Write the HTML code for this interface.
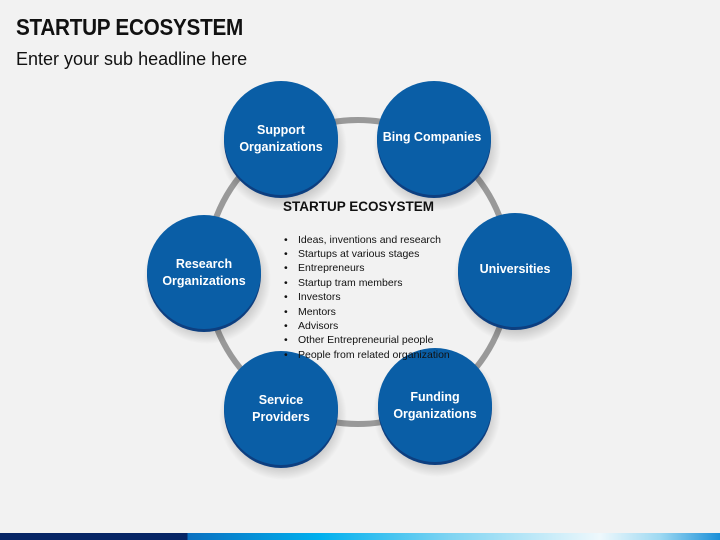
<!DOCTYPE html>
<html><head><meta charset="utf-8"><style>
html,body{margin:0;padding:0;}
body{width:720px;height:540px;background:#f2f2f2;position:relative;overflow:hidden;font-family:"Liberation Sans",sans-serif;}
.t{position:absolute;left:16px;top:14px;font-size:23px;font-weight:bold;color:#111;letter-spacing:-0.3px;transform:scaleX(0.9);transform-origin:0 0}
.s{position:absolute;left:16px;top:49px;font-size:18px;color:#111}
.bar{position:absolute;left:0;top:533px;width:720px;height:7px;background:linear-gradient(90deg,#062565 0,#062565 187px,#0a70c0 188px,#00b0ee 320px,#7fd4f2 450px,#eef8fc 600px,#9ed9f2 660px,#1a8fd8 720px)}
</style></head><body>
<div class="t">STARTUP ECOSYSTEM</div>
<div class="s">Enter your sub headline here</div>
<svg width="720" height="540" style="position:absolute;left:0;top:0">
<defs>
<radialGradient id="sh" cx="50%" cy="50%" r="50%"><stop offset="70%" stop-color="#000" stop-opacity="0.25"/><stop offset="100%" stop-color="#000" stop-opacity="0"/></radialGradient>
</defs>
<circle cx="358" cy="272" r="152" fill="none" stroke="#999" stroke-width="6"/>
<g font-family="Liberation Sans,sans-serif" font-weight="bold" font-size="12.5" fill="#fff" text-anchor="middle">
<circle cx="283" cy="147" r="64" fill="url(#sh)"/><circle cx="281" cy="141" r="57" fill="#0d3f80"/><circle cx="281" cy="138" r="57" fill="#0a5ea6"/>
<text x="281" y="134">Support</text><text x="281" y="151">Organizations</text>
<circle cx="437" cy="147" r="64" fill="url(#sh)"/><circle cx="434" cy="141" r="57" fill="#0d3f80"/><circle cx="434" cy="138" r="57" fill="#0a5ea6"/>
<text x="432" y="141">Bing Companies</text>
<circle cx="207" cy="280" r="64" fill="url(#sh)"/><circle cx="204" cy="275" r="57" fill="#0d3f80"/><circle cx="204" cy="272" r="57" fill="#0a5ea6"/>
<text x="204" y="268">Research</text><text x="204" y="285">Organizations</text>
<circle cx="517" cy="279" r="64" fill="url(#sh)"/><circle cx="515" cy="273" r="57" fill="#0d3f80"/><circle cx="515" cy="270" r="57" fill="#0a5ea6"/>
<text x="515" y="273">Universities</text>
<circle cx="283" cy="416" r="64" fill="url(#sh)"/><circle cx="281" cy="411" r="57" fill="#0d3f80"/><circle cx="281" cy="408" r="57" fill="#0a5ea6"/>
<text x="281" y="404">Service</text><text x="281" y="421">Providers</text>
<circle cx="437" cy="413" r="64" fill="url(#sh)"/><circle cx="435" cy="408" r="57" fill="#0d3f80"/><circle cx="435" cy="405" r="57" fill="#0a5ea6"/>
<text x="435" y="401">Funding</text><text x="435" y="418">Organizations</text>
</g>
<g font-family="Liberation Sans,sans-serif" fill="#111">
<text x="283" y="211" font-size="13.5" font-weight="bold">STARTUP ECOSYSTEM</text>
<g font-size="10.5">
<text x="284" y="243">•</text><text x="298" y="243">Ideas, inventions and research</text>
<text x="284" y="257">•</text><text x="298" y="257">Startups at various stages</text>
<text x="284" y="271">•</text><text x="298" y="271">Entrepreneurs</text>
<text x="284" y="286">•</text><text x="298" y="286">Startup tram members</text>
<text x="284" y="300">•</text><text x="298" y="300">Investors</text>
<text x="284" y="315">•</text><text x="298" y="315">Mentors</text>
<text x="284" y="329">•</text><text x="298" y="329">Advisors</text>
<text x="284" y="343">•</text><text x="298" y="343">Other Entrepreneurial people</text>
<text x="284" y="358">•</text><text x="298" y="358">People from related organization</text>
</g></g>
</svg>
<div class="bar"></div>
</body></html>
